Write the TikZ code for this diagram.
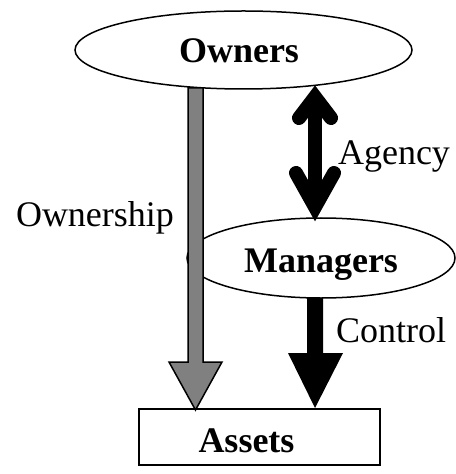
\documentclass[tikz,border=0pt]{standalone}
\usepackage{fontspec}
\setmainfont{Liberation Serif}
\usetikzlibrary{shapes.geometric,calc}
\begin{document}
\begin{tikzpicture}[x=1bp,y=-1bp,
  ell/.style={draw,line width=1.5bp,ellipse,inner sep=0pt,fill=white},
  lbl/.style={font=\fontsize{36bp}{40bp}\selectfont,inner sep=0pt,anchor=base},
  blbl/.style={lbl,font=\fontsize{36bp}{40bp}\selectfont\bfseries},
  agency/.style={line width=14bp,line cap=round,line join=miter}]
\useasboundingbox (0,0) rectangle (456,474);
% boxes
\node[ell,minimum width=337bp,minimum height=78bp] (owners) at (243.5,50) {};
\node[ell,minimum width=268bp,minimum height=80bp] (managers) at (321,258) {};
\node[draw,line width=1.8bp,minimum width=241bp,minimum height=56bp,inner sep=0pt] (assets) at (259.5,437) {};
% ownership arrow (gray)
\coordinate (gtop) at (195.5,88);
\coordinate (gtip) at (195.5,410);
\draw[line width=1.5bp,fill=gray,line join=miter]
  ($(gtop)+(-7.5,0)$) -- ($(gtop)+(7.5,0)$) -- (203,362) -- (222,362) -- (gtip)
  -- (169,362) -- (188,362) -- cycle;
% control arrow (black)
\coordinate (ctop) at (315,298);
\coordinate (ctip) at (315,408);
\fill ($(ctop)+(-8,0)$) -- ($(ctop)+(8,0)$) -- (323,353) -- (343,353) -- (ctip)
  -- (288,353) -- (307,353) -- cycle;
% agency double arrow
\draw[agency] (315,100) -- (315,205);
\draw[agency] (299,118) -- (315,97) -- (331,118);
\draw[agency] (296,173) -- (315,207) -- (334,173);
% texts
\node[blbl] (towners) at (239,63) {Owners};
\node[blbl] (tmanagers) at (321,272) {Managers};
\node[blbl] (tassets) at (246.5,452) {Assets};
\node[lbl] (townership) at (95,227) {Ownership};
\node[lbl] (tagency) at (394,165) {Agency};
\node[lbl] (tcontrol) at (391,342) {Control};
\end{tikzpicture}
\end{document}
